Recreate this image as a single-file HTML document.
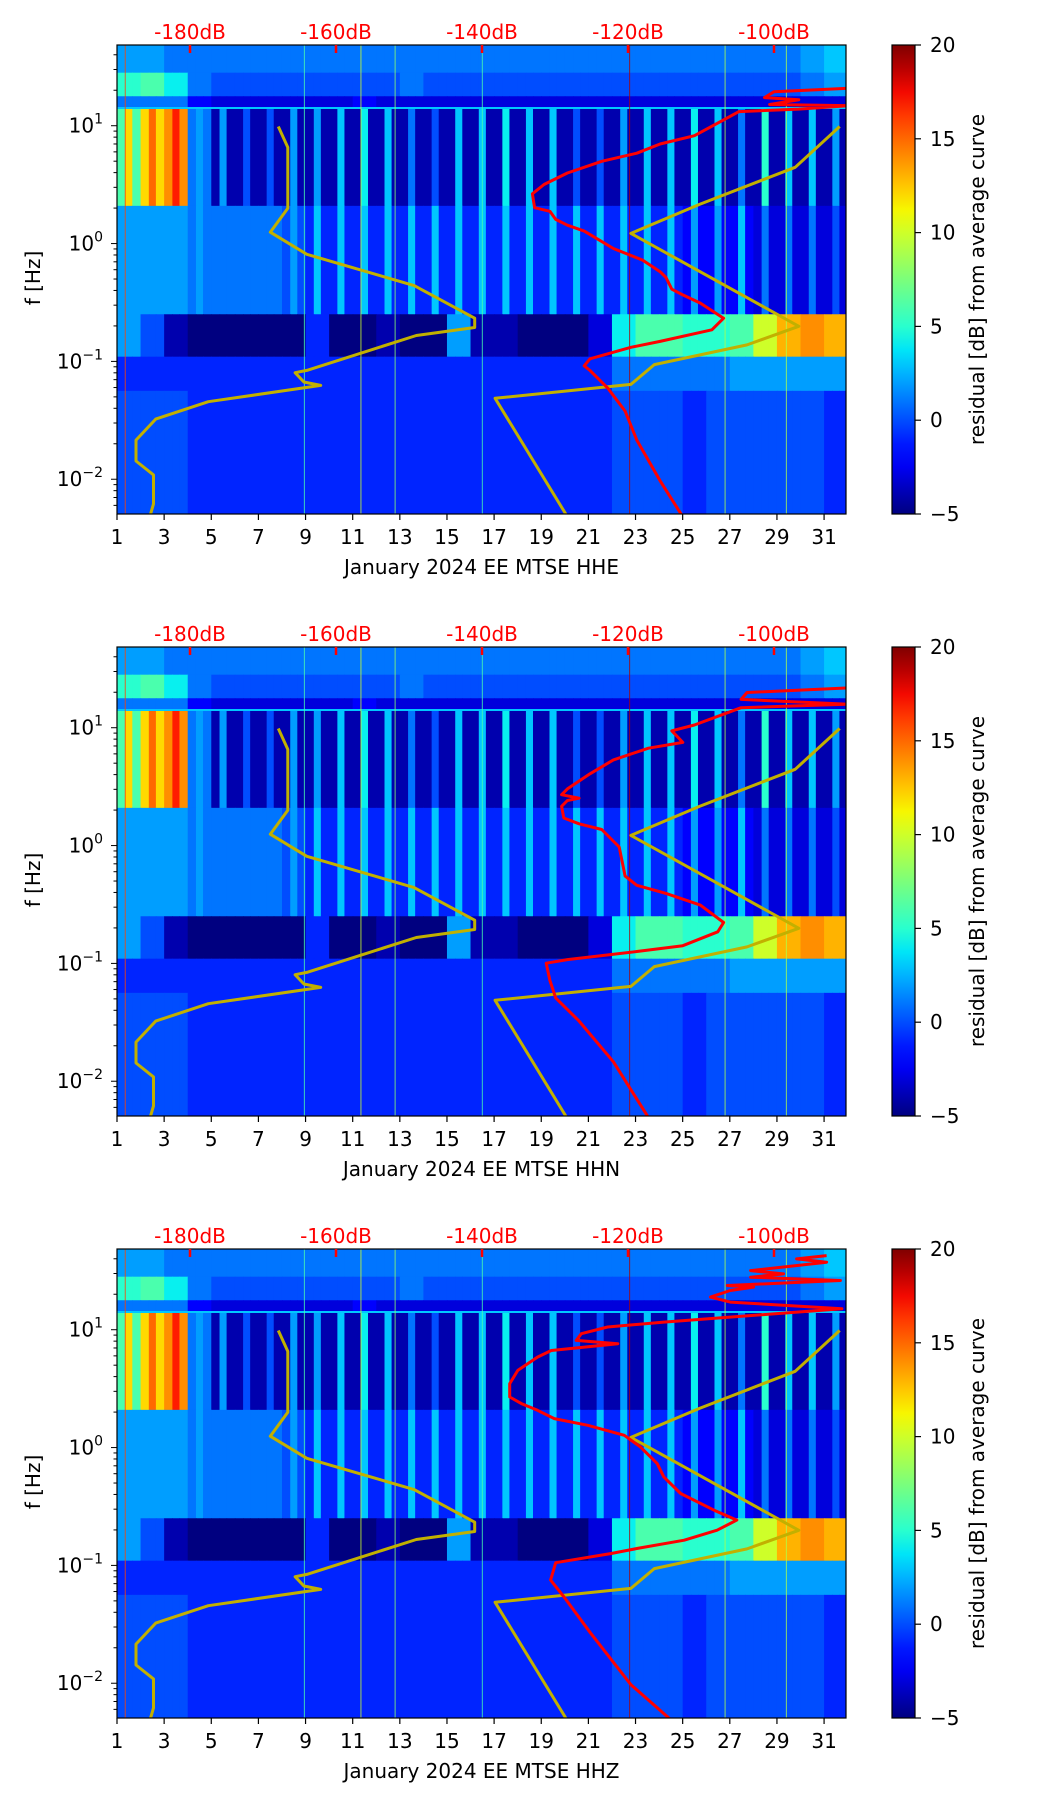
<!DOCTYPE html>
<html><head><meta charset="utf-8"><style>
html,body{margin:0;padding:0;background:#fff}
svg{display:block;font-family:"DejaVu Sans","Liberation Sans",sans-serif}
</style></head><body>
<svg id="fig" xmlns="http://www.w3.org/2000/svg" width="1052" height="1806" viewBox="0 0 1052 1806"></svg>
<script>
// ---------- data ----------
const dayTicks = [1,3,5,7,9,11,13,15,17,19,21,23,25,27,29,31];
const dbTicks = [-180,-160,-140,-120,-100];
const cbTicks = [-5,0,5,10,15,20];
const decades = [1,0,-1,-2];
const channels = ["HHE","HHN","HHZ"];
// spectrogram bands (log10 Hz bounds)
const bandLo = [1.45, 1.25, 1.15, 0.32, -0.6, -0.96, -1.25, -2.4];
const bandHi = [1.75, 1.45, 1.25, 1.15, 0.32, -0.6, -0.96, -1.25];
// daytime residual values per band per day (Jan 1..31)
const a1Day = [2,2,1,1,1,1,1,1,1,1,1,1,1,1,1,1,1,1,1,1,1,1,1,1,1,1,1,1,1,2,3];
const a2Day = [5,6,4,1,0,0,0,0,0,0,0,0,1,0,0,0,0,0,0,0,0,0,0,0,0,0,0,0,0,1,2];
const a3Day = [1,1,1,-2,-3,-3,-3,-3,-3,-3,-2,-3,-3,-3,-3,-3,-3,-3,-3,-3,-3,-3,-3,-3,-3,-3,-3,-3,-3,-3,-3];
const bDay = [12,15,17,2,2,0,0,2,2,3,4,3,1,0,3,3,4,3,3,0,0,2,3,3,4,3,1,5,3,3,2];
const bNight = [6,12,14,1,-4,-4,-4,-4,-4,-4,-4,-4,-4,-4,-4,-4,-4,-4,-4,-4,-4,-4,-4,-4,-4,-4,-4,-4,-4,-4,-4];
const cDay = [2,2,2,2,1,1,1,2,3,3,3,3,3,3,3,3,3,3,3,3,3,3,3,3,2,2,3,1,1,1,0];
const cNight = [2,2,2,1,1,1,1,0,-1,-1,-1,-1,-1,-1,-1,-1,-1,-1,-1,-1,-1,-1,-1,-1,-2,-2,-2,-3,-3,-3,-3];
const dDay = [2,0,-4,-5,-5,-5,-5,-5,-1,-5,-5,-4,-5,-5,2,-4,-4,-5,-5,-5,-3,4,6,6,5,5,6,10,13,14,13];
const e1Day = [-1,-1,-1,-1,-1,-1,-1,-1,-1,-1,-1,-1,-1,-1,-1,-1,-1,-1,-1,-1,-1,1,1,1,1,1,2,2,2,2,2];
const e2Day = [0,0,0,-1,-1,-1,-1,-1,-1,-1,-1,-1,-1,-1,-1,-1,-1,-1,-1,-1,-1,0,0,0,-1,0,0,0,0,0,-1];
const spikeDays = [1.35,8.95,11.35,12.8,16.5,22.75,26.8,29.4];
const spikeVals = [16,6,10,8,6,19,9,9];
// noise models (dB, log10 f)
const nlnmDb = [-167.9,-166.6,-166.6,-169.0,-164.0,-149.3,-141.0,-141.0,-149.0,-164.0,-165.6,-164.4,-162.1,-177.5,-184.7,-187.4,-187.4,-185.0,-185.0,-185.5];
const nlnmLogF = [0.993,0.816,0.30,0.096,-0.091,-0.357,-0.633,-0.712,-0.780,-1.076,-1.096,-1.175,-1.204,-1.342,-1.490,-1.668,-1.845,-1.963,-2.209,-2.318];
const nhnmDb = [-91.0,-97.1,-110.2,-119.6,-96.6,-103.7,-116.4,-119.6,-138.2,-128.3];
const nhnmLogF = [0.993,0.647,0.332,0.086,-0.702,-0.860,-1.027,-1.195,-1.313,-2.318];
// average curves per channel
const redDbE = [-89.8,-100,-101.3,-96.6,-100.6,-89.8,-96.6,-104.8,-110.9,-115.6,-118.8,-123.6,-128.3,-131.5,-133.1,-132.8,-130.7,-129.9,-128.3,-126,-122,-118,-115.6,-114.8,-114,-112.5,-110.1,-106.9,-108.5,-115.6,-119.6,-125.2,-126,-125.2,-122.8,-120.4,-118.8,-115.6,-112.5];
const redLogFE = [1.318,1.289,1.239,1.22,1.18,1.17,1.141,1.12,0.915,0.845,0.767,0.698,0.599,0.501,0.422,0.304,0.274,0.205,0.156,0.106,-0.042,-0.14,-0.239,-0.288,-0.387,-0.436,-0.505,-0.633,-0.732,-0.83,-0.88,-0.978,-1.037,-1.077,-1.225,-1.422,-1.668,-2.013,-2.319];
const redDbN = [-89.8,-103.7,-104.5,-89.8,-104.5,-110.9,-114.0,-112.5,-117.2,-122,-125.2,-128.3,-129.1,-126.7,-128.3,-129.1,-128.8,-126.7,-123.6,-121.2,-120.4,-118.8,-114.8,-110.1,-106.9,-107.7,-112.5,-118.8,-128.3,-131.2,-130.7,-129.9,-126.7,-122,-117.2];
const redLogFN = [1.338,1.299,1.240,1.200,1.170,1.023,0.974,0.875,0.826,0.727,0.609,0.481,0.432,0.402,0.382,0.333,0.234,0.185,0.136,-0.012,-0.259,-0.337,-0.406,-0.505,-0.653,-0.732,-0.850,-0.899,-0.968,-0.998,-1.145,-1.293,-1.490,-1.835,-2.308];
const redDbZ = [-92.8,-96.9,-92.8,-103.2,-98.7,-103.2,-90.9,-106.4,-102.8,-106,-108.7,-106,-90.7,-115.1,-122.8,-126.4,-127.1,-121.4,-130.5,-132.4,-135.1,-136.2,-136.2,-134.6,-132.4,-130.1,-125.5,-120.5,-118.3,-116,-115.1,-112.8,-108.2,-105.1,-107.8,-112.3,-118.7,-122.3,-129.9,-130.6,-128.7,-125.2,-119.6,-114.0];
const redLogFZ = [1.629,1.601,1.573,1.502,1.474,1.446,1.418,1.375,1.362,1.333,1.277,1.234,1.178,1.065,1.023,0.966,0.909,0.881,0.824,0.768,0.655,0.542,0.429,0.373,0.316,0.246,0.189,0.104,0.006,-0.136,-0.249,-0.39,-0.532,-0.616,-0.701,-0.786,-0.856,-0.899,-0.977,-1.125,-1.273,-1.568,-2.012,-2.317];

// ---------- layout ----------
const NS = "http://www.w3.org/2000/svg";
const svg = document.getElementById('fig');
const L = 117, R = 846, H = 469, LOGTOP = 1.685, LOGBOT = -2.295, DAYMAX = 31.93;
const panelTops = [45, 647, 1249];
const CBL = 892, CBR = 915;
function X(d){ return L + (d-1)/(DAYMAX-1)*(R-L); }
function XdB(db){ return 190 + (db+180)*7.3; }
function jet(v){
  let t = Math.max(0, Math.min(1, (v+5)/25));
  const seg=(pts)=>{for(let i=1;i<pts.length;i++){if(t<=pts[i][0]){const a=pts[i-1],b=pts[i];return a[1]+(b[1]-a[1])*(t-a[0])/(b[0]-a[0]);}}return pts[pts.length-1][1];};
  const r=seg([[0,0],[0.35,0],[0.66,1],[0.89,1],[1,0.5]]);
  const g=seg([[0,0],[0.125,0],[0.375,1],[0.64,1],[0.91,0],[1,0]]);
  const b=seg([[0,0.5],[0.11,1],[0.34,1],[0.65,0],[1,0]]);
  return `rgb(${Math.round(r*255)},${Math.round(g*255)},${Math.round(b*255)})`;
}
function el(tag, attrs, parent){
  const e = document.createElementNS(NS, tag);
  for (const k in attrs) e.setAttribute(k, attrs[k]);
  (parent||svg).appendChild(e);
  return e;
}
const bandDay = [a1Day,a2Day,a3Day,bDay,cDay,dDay,e1Day,e2Day];
const bandNight = [a1Day,a2Day,a3Day,bNight,cNight,dDay,e1Day,e2Day];
const redDbs = [redDbE, redDbN, redDbZ];
const redLogFs = [redLogFE, redLogFN, redLogFZ];

const defs = el('defs', {});
const grad = el('linearGradient', {id:'jetgrad', x1:'0', y1:'1', x2:'0', y2:'0'}, defs);
for (let i=0;i<=20;i++){ const v=-5+25*i/20; el('stop',{offset:(i/20).toString(),'stop-color':jet(v)},grad); }

panelTops.forEach((T, p) => {
  const Y = (lf) => T + (LOGTOP - lf)/(LOGTOP-LOGBOT)*H;
  const g = el('g', {});
  
  
  const cp = el('clipPath', {id:'clip'+p}, defs);
  el('rect', {x:L, y:T, width:R-L, height:H}, cp);
  const plot = el('g', {'clip-path':`url(#clip${p})`}, g);
  for (let b=0;b<bandLo.length;b++){
    for (let d=0; d<31; d++){
      const day = d+1;
      const segs = [[0,0.35,bandNight[b][d]],[0.35,0.65,bandDay[b][d]],[0.65,1.0,bandNight[b][d]]];
      segs.forEach(s => {
        const x0 = X(day+s[0]), x1 = X(day+s[1]);
        const r = el('rect', {x:x0, y:Y(bandHi[b]), width:x1-x0+0.6, height:Y(bandLo[b])-Y(bandHi[b])+0.6, fill:jet(s[2])}, plot);
        
        
      });
    }
  }
  el('line', {x1:L, x2:R, y1:Y(1.15), y2:Y(1.15), stroke:jet(3), 'stroke-width':2}, plot);
  spikeDays.forEach((sd, i) => {
    const s = el('line', {x1:X(sd), x2:X(sd), y1:T, y2:T+H, stroke:jet(spikeVals[i]), 'stroke-width':1, 'stroke-opacity':0.8}, plot);
    
    
  });
  const poly = (dbs, lfs, color, name) => {
    const pts = dbs.map((v,i)=>XdB(v).toFixed(1)+','+Y(lfs[i]).toFixed(1)).join(' ');
    const pl = el('polyline', {points:pts, fill:'none', stroke:color, 'stroke-width':3, 'stroke-linejoin':'round'}, plot);
    
    
  };
  poly(nlnmDb, nlnmLogF, '#c2b000', 'nlnm-curve');
  poly(nhnmDb, nhnmLogF, '#c2b000', 'nhnm-curve');
  poly(redDbs[p], redLogFs[p], '#ff0000', 'average-curve');
  el('rect', {x:L, y:T, width:R-L, height:H, fill:'none', stroke:'#000', 'stroke-width':1.2}, g);
  dbTicks.forEach(db => {
    el('line', {x1:XdB(db), x2:XdB(db), y1:T, y2:T+8, stroke:'#ff0000', 'stroke-width':2.5}, g);
    const t = el('text', {x:XdB(db), y:T-6, fill:'#ff0000', 'font-size':20, 'text-anchor':'middle'}, g);
    t.textContent = db + 'dB';
    
    
  });
  dayTicks.forEach(d => {
    el('line', {x1:X(d), x2:X(d), y1:T+H, y2:T+H+6, stroke:'#000', 'stroke-width':1.2}, g);
    const t = el('text', {x:X(d), y:T+H+30, 'font-size':20, 'text-anchor':'middle'}, g);
    t.textContent = d;
    
    
  });
  const xl = el('text', {x:(L+R)/2, y:T+H+60, 'font-size':20, 'text-anchor':'middle'}, g);
  xl.textContent = 'January 2024 EE MTSE  ' + channels[p];
  
  
  for (let k=-3;k<=1;k++){
    for (let m=1;m<10;m++){
      const lf = k + Math.log10(m);
      if (lf < LOGBOT || lf > LOGTOP) continue;
      const len = m===1 ? 6 : 3.5;
      el('line', {x1:L-len, x2:L, y1:Y(lf), y2:Y(lf), stroke:'#000', 'stroke-width':1}, g);
    }
  }
  decades.forEach(k => {
    const t = el('text', {x:103, y:Y(k)+7, 'font-size':20, 'text-anchor':'end'}, g);
    const base = el('tspan', {}, t); base.textContent = '10';
    const sup = el('tspan', {dy:-9, 'font-size':14}, t); sup.textContent = k<0 ? '\u2212'+(-k) : k;
    
    
  });
  const yl = el('text', {x:0, y:0, 'font-size':20, 'text-anchor':'middle', transform:`translate(40,${T+233}) rotate(-90)`}, g);
  yl.textContent = 'f [Hz]';
  
  
  const cb = el('rect', {x:CBL, y:T, width:CBR-CBL, height:H, fill:'url(#jetgrad)', stroke:'#000', 'stroke-width':1.2}, g);
  
  
  cbTicks.forEach(v => {
    const y = T + (20-v)/25*H;
    el('line', {x1:CBR, x2:CBR+6, y1:y, y2:y, stroke:'#000', 'stroke-width':1.2}, g);
    const t = el('text', {x:930, y:y+7, 'font-size':20}, g);
    t.textContent = v<0 ? '\u2212'+(-v) : v;
    
    
  });
  const cl = el('text', {x:0, y:0, 'font-size':20, 'text-anchor':'middle', transform:`translate(984,${T+H/2}) rotate(-90)`}, g);
  cl.textContent = 'residual [dB] from average curve';
  
  
});
</script>
</body></html>
